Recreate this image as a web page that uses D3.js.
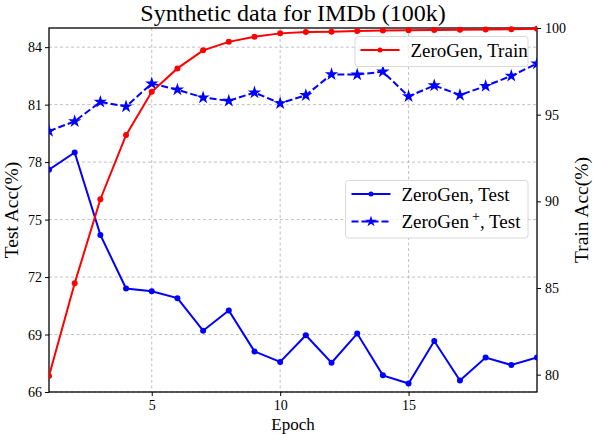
<!DOCTYPE html>
<html>
<head>
<meta charset="utf-8">
<script src="https://cdn.jsdelivr.net/npm/d3@7"></script>
<style>
  body { margin: 0; background: #fff; }
  text { font-family: "Liberation Serif", "DejaVu Serif", serif; }
</style>
</head>
<body>
<script>
// epochs 1..20
var epochs = d3.range(1, 21);
// ZeroGen, Test (left axis)
var zeroGenTest = [77.6, 78.5, 74.2, 71.4, 71.26, 70.9, 69.2, 70.26, 68.12, 67.57,
                   68.96, 67.53, 69.05, 66.87, 66.44, 68.66, 66.6, 67.8, 67.41, 67.8];
// ZeroGen+, Test (left axis)
var zeroGenPlusTest = [79.62, 80.13, 81.14, 80.9, 82.1, 81.78, 81.37, 81.2, 81.63, 81.07,
                       81.49, 82.58, 82.57, 82.72, 81.43, 82.0, 81.5, 81.97, 82.5, 83.14];
// ZeroGen, Train (right axis)
var zeroGenTrain = [79.92, 85.27, 90.12, 93.82, 96.32, 97.67, 98.71, 99.2, 99.49, 99.69,
                    99.77, 99.79, 99.83, 99.85, 99.87, 99.89, 99.9, 99.92, 99.93, 99.95];
var xTicks = [5, 10, 15];
var leftTicks = [66, 69, 72, 75, 78, 81, 84];
var rightTicks = [80, 85, 90, 95, 100];

var W = 594, H = 434;
var m = { left: 49, right: 57, top: 28, bottom: 42 };
var serif = "Liberation Serif";

var svg = d3.select("body").append("svg")
  .attr("width", W).attr("height", H);

var x = d3.scaleLinear().domain([1, 20]).range([m.left, W - m.right]);
var yL = d3.scaleLinear().domain([66, 85]).range([H - m.bottom, m.top]);
var yR = d3.scaleLinear().domain([79, 100]).range([H - m.bottom, m.top]);

// grid
var grid = svg.append("g").attr("stroke", "#b0b0b0").attr("stroke-width", 0.8)
  .attr("stroke-dasharray", "3,2.5");
grid.selectAll(".gx").data(xTicks).enter().append("line")
  .attr("x1", function(d) { return x(d); }).attr("x2", function(d) { return x(d); })
  .attr("y1", m.top).attr("y2", H - m.bottom);
grid.selectAll(".gy").data(leftTicks).enter().append("line")
  .attr("x1", m.left).attr("x2", W - m.right)
  .attr("y1", function(d) { return yL(d); }).attr("y2", function(d) { return yL(d); });

// axes
function styleAxis(g) {
  g.attr("font-family", serif).attr("font-size", 14);
  g.selectAll("text").attr("fill", "#000");
  g.selectAll(".tick line").attr("stroke", "#000");
  g.select(".domain").remove();
}
svg.append("g").attr("transform", "translate(0," + (H - m.bottom) + ")")
  .call(d3.axisBottom(x).tickValues(xTicks).tickSize(4).tickPadding(4)).call(styleAxis);
svg.append("g").attr("transform", "translate(" + m.left + ",0)")
  .call(d3.axisLeft(yL).tickValues(leftTicks).tickSize(4).tickPadding(3)).call(styleAxis);
svg.append("g").attr("transform", "translate(" + (W - m.right) + ",0)")
  .call(d3.axisRight(yR).tickValues(rightTicks).tickSize(4).tickPadding(4)).call(styleAxis);

// frame
svg.append("rect").attr("x", m.left).attr("y", m.top)
  .attr("width", W - m.left - m.right).attr("height", H - m.top - m.bottom)
  .attr("fill", "none").attr("stroke", "#000").attr("stroke-width", 1.3);

svg.append("clipPath").attr("id", "clip").append("rect")
  .attr("x", m.left).attr("y", m.top - 6)
  .attr("width", W - m.left - m.right).attr("height", H - m.top - m.bottom + 6);

var plot = svg.append("g").attr("clip-path", "url(#clip)");

var star = d3.symbol().type(d3.symbolStar).size(55);

function drawSeries(vals, yScale, color, dashed, marker) {
  var line = d3.line()
    .x(function(d, i) { return x(epochs[i]); })
    .y(function(d) { return yScale(d); });
  plot.append("path").datum(vals).attr("d", line)
    .attr("fill", "none").attr("stroke", color).attr("stroke-width", 2)
    .attr("stroke-dasharray", dashed ? "7,3" : null);
  if (marker === "star") {
    plot.selectAll(null).data(vals).enter().append("path")
      .attr("d", star)
      .attr("transform", function(d, i) { return "translate(" + x(epochs[i]) + "," + yScale(d) + ")"; })
      .attr("fill", color);
  } else {
    plot.selectAll(null).data(vals).enter().append("circle")
      .attr("cx", function(d, i) { return x(epochs[i]); })
      .attr("cy", function(d) { return yScale(d); })
      .attr("r", 3).attr("fill", color);
  }
}

drawSeries(zeroGenPlusTest, yL, "#0000ff", true, "star");
drawSeries(zeroGenTest, yL, "#0000ff", false, "circle");
drawSeries(zeroGenTrain, yR, "#ff0000", false, "circle");

// legends
function legendBox(x0, y0, w, h) {
  svg.append("rect").attr("x", x0).attr("y", y0).attr("width", w).attr("height", h)
    .attr("rx", 3).attr("fill", "rgba(255,255,255,0.8)")
    .attr("stroke", "#d8d8d8").attr("stroke-width", 1);
}
function legendItem(x0, y0, color, dashed, marker, label, sup) {
  svg.append("line").attr("x1", x0).attr("x2", x0 + 39).attr("y1", y0).attr("y2", y0)
    .attr("stroke", color).attr("stroke-width", 2)
    .attr("stroke-dasharray", dashed ? "7,3" : null);
  if (marker === "star") {
    svg.append("path").attr("d", d3.symbol().type(d3.symbolStar).size(40)).attr("fill", color)
      .attr("transform", "translate(" + (x0 + 19.5) + "," + y0 + ")");
  } else {
    svg.append("circle").attr("cx", x0 + 19.5).attr("cy", y0).attr("r", 2.5).attr("fill", color);
  }
  var t = svg.append("text").attr("x", x0 + 50).attr("y", y0 + 6.5)
    .attr("font-size", 19).attr("fill", "#000");
  if (sup) {
    t.append("tspan").text(label[0]);
    t.append("tspan").text(sup).attr("font-size", 14).attr("dy", -7).attr("dx", 3);
    t.append("tspan").text(label[1]).attr("dy", 7);
  } else {
    t.text(label);
  }
}

legendBox(355, 36.5, 173, 30);
legendItem(360.5, 50, "#ff0000", false, "circle", "ZeroGen, Train");

legendBox(345.5, 180.5, 182.5, 57.5);
legendItem(351.5, 194, "#0000ff", false, "circle", "ZeroGen, Test");
legendItem(351.5, 221.5, "#0000ff", true, "star", ["ZeroGen", ", Test"], "+");

// titles
svg.append("text").attr("x", (m.left + W - m.right) / 2).attr("y", 21)
  .attr("text-anchor", "middle").attr("font-size", 24).text("Synthetic data for IMDb (100k)");
svg.append("text").attr("x", (m.left + W - m.right) / 2).attr("y", 430)
  .attr("text-anchor", "middle").attr("font-size", 17).text("Epoch");
svg.append("text").attr("transform", "translate(17.5," + ((m.top + H - m.bottom) / 2) + ") rotate(-90)")
  .attr("text-anchor", "middle").attr("font-size", 19.5).text("Test Acc(%)");
svg.append("text").attr("transform", "translate(588," + ((m.top + H - m.bottom) / 2) + ") rotate(-90)")
  .attr("text-anchor", "middle").attr("font-size", 19.5).text("Train Acc(%)");
</script>
</body>
</html>
